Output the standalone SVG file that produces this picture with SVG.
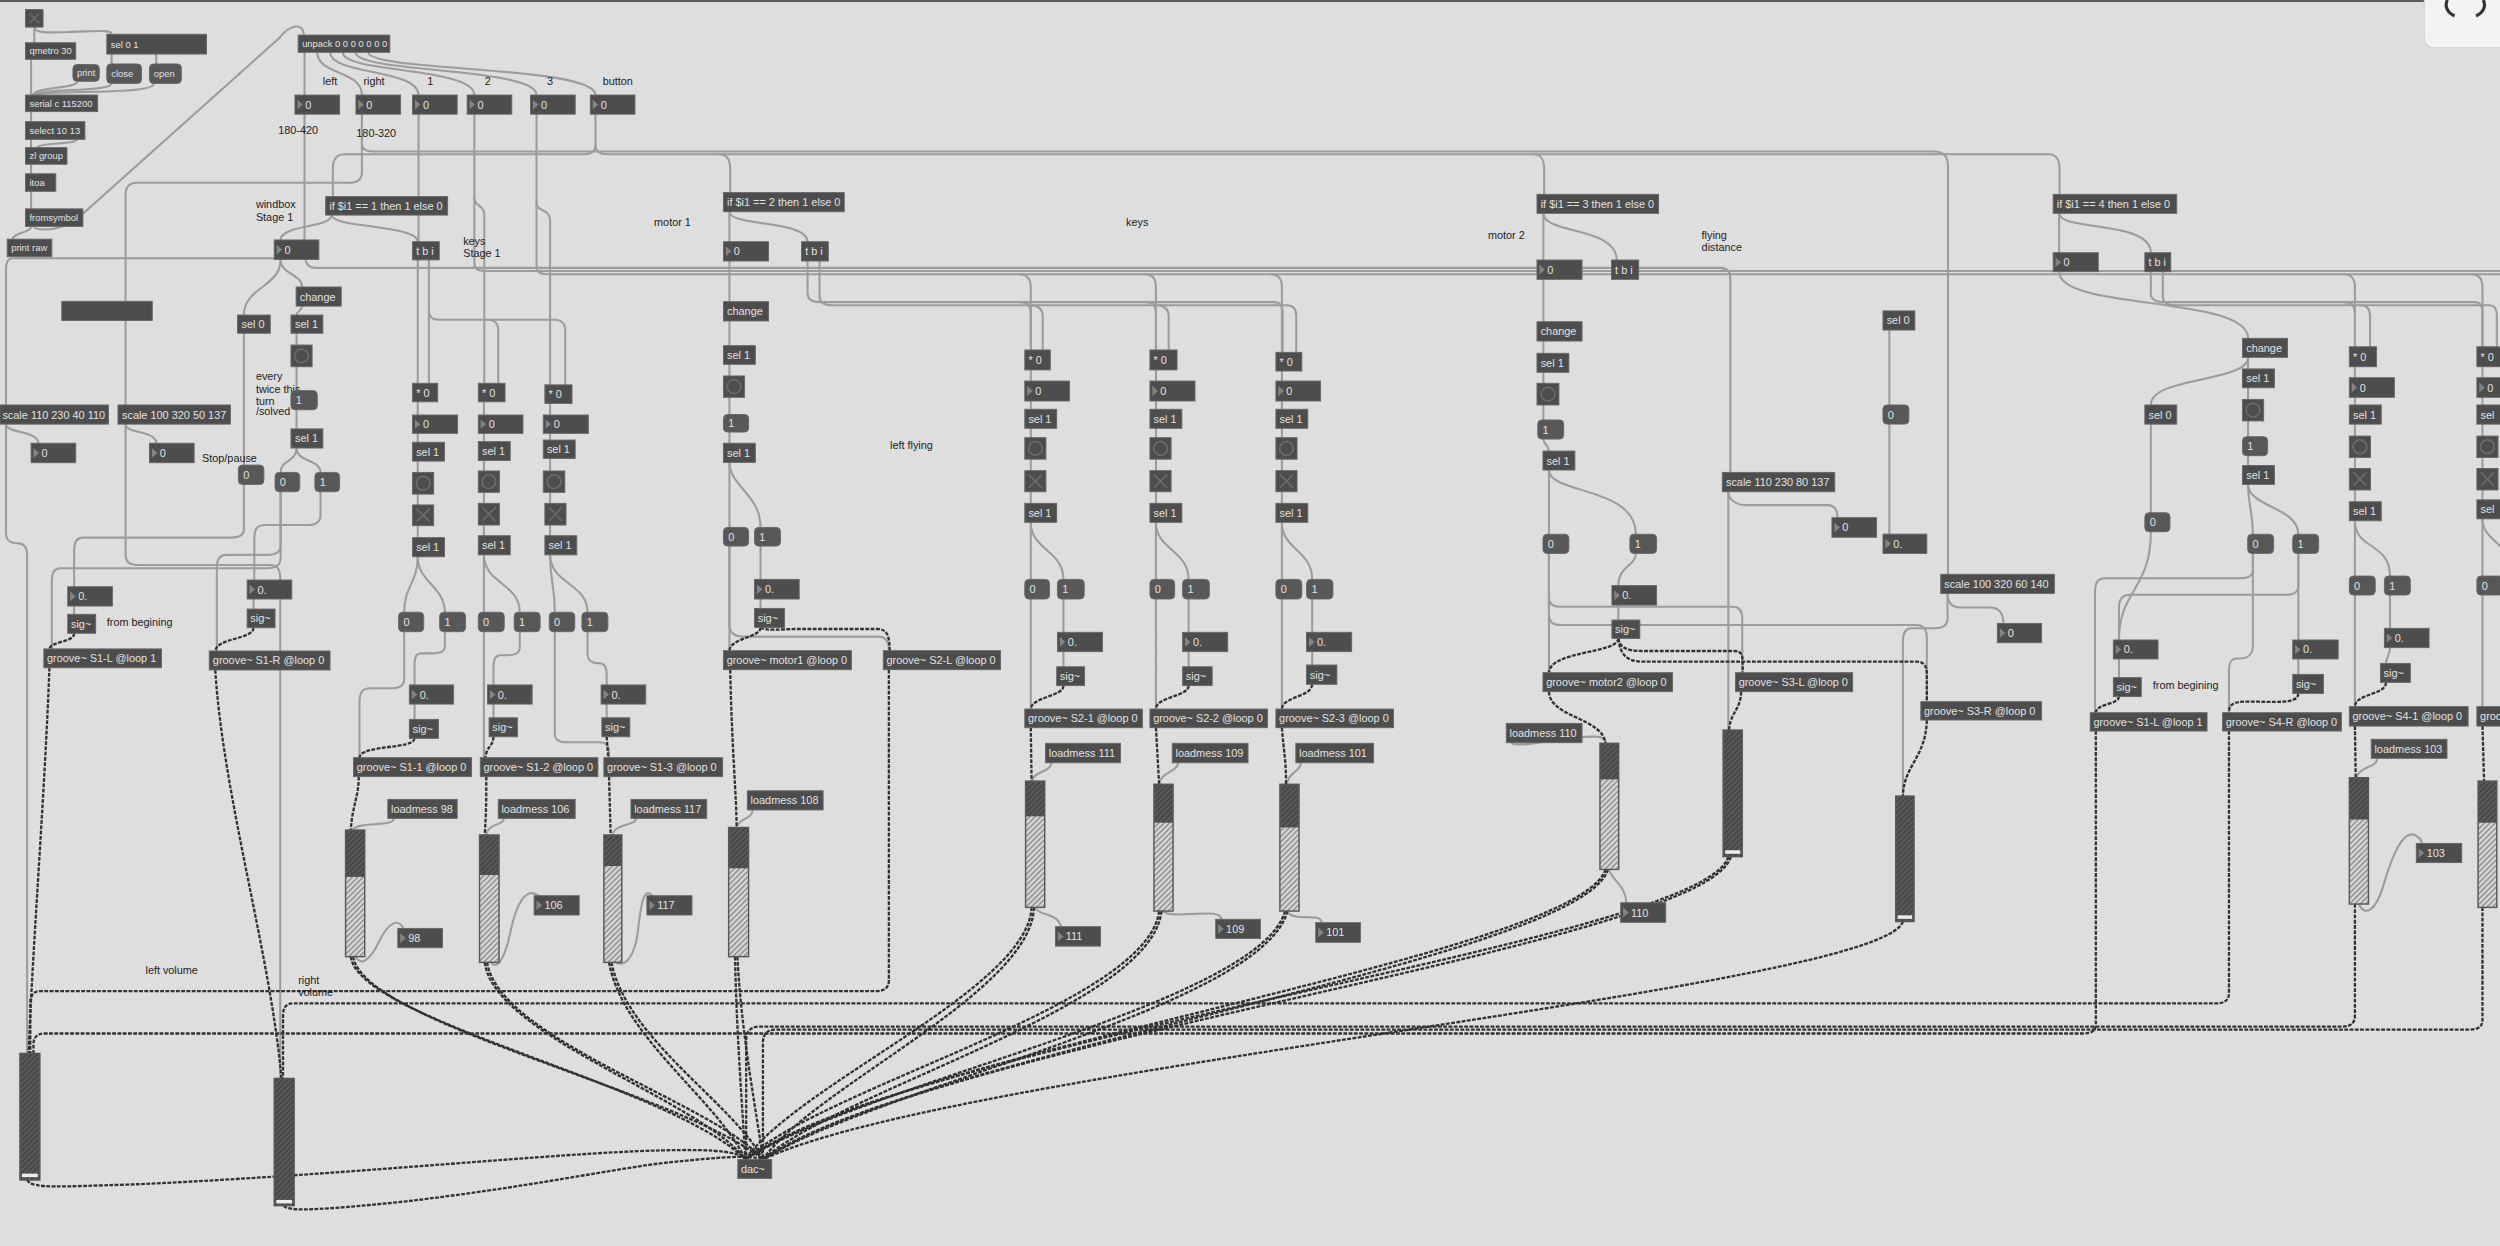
<svg xmlns="http://www.w3.org/2000/svg" width="2500" height="1246" viewBox="0 0 2500 1246">
<defs>
<style>
.o{fill:#4d4d4d;stroke:#676767;stroke-width:.6}
.m{fill:#585858;stroke:#676767;stroke-width:.6}
.t{font-family:"Liberation Sans",Arial,sans-serif;font-size:6.85px;fill:#e2e2e2}
.ts{font-family:"Liberation Sans",Arial,sans-serif;font-size:5.9px;fill:#e2e2e2}
.c{font-family:"Liberation Sans",Arial,sans-serif;font-size:6.8px;fill:#1c1c1c}
.tr{fill:#838383}
.ui{fill:none;stroke:#6c6c6c;stroke-width:1}
.w{fill:none;stroke:#9c9c9c;stroke-width:1.3;stroke-linecap:round}
.s{fill:none;stroke:#323232;stroke-width:1.45;stroke-dasharray:2.4 0.9}
.sb{fill:none;stroke:#585858;stroke-width:.9}
.kn{fill:#ececec}
</style>
<pattern id="hd" width="2.4" height="2.4" patternUnits="userSpaceOnUse" patternTransform="rotate(45)"><rect width="2.4" height="2.4" fill="#474747"/><rect width="0.9" height="2.4" fill="#5e5e5e"/></pattern>
<pattern id="hl" width="2.4" height="2.4" patternUnits="userSpaceOnUse" patternTransform="rotate(45)"><rect width="2.4" height="2.4" fill="#d8d8d8"/><rect width="0.9" height="2.4" fill="#8a8a8a"/></pattern>
</defs>
<rect width="2500" height="1246" fill="#dedede"/>
<rect width="2500" height="2" fill="#5a5a5a"/>
<g transform="scale(1.59439)">
<g id="connectors">
<g class="w">
<path d="M21.5,17V26.8"/>
<path d="M21.5,17C22,21 30,20.5 45,20C62,19.5 70,18.5 70,21.5"/>
<path d="M19.5,37.2V59.6"/>
<path d="M70,33.9V40.1"/>
<path d="M98,33.9V40.1"/>
<path d="M48.5,51C48.5,56 22,54 20.5,59.6"/>
<path d="M70,52.3C70,58 25,55 21.5,59.6"/>
<path d="M96.5,52.3C96.5,60 28,56 22.5,59.6"/>
<path d="M19.5,70V76.3"/>
<path d="M19.5,87.4V92.6"/>
<path d="M48,87.4C48,91 26,89 23,92.6"/>
<path d="M19.5,103V109"/>
<path d="M19.5,120V131"/>
<path d="M19.5,142C19.5,146 8,146 8,150"/>
<path d="M21,142C24,146 44,144 52,134L175,24C182,15 190.5,14 190.5,22"/>
<path d="M199,32.8C199,47 227,44 227,59.6"/>
<path d="M207,32.8C207,47 262.5,43 262.5,59.6"/>
<path d="M215,32.8C215,46 297.5,42 297.5,59.6"/>
<path d="M223,32.8C223,46 336.5,42 336.5,59.6"/>
<path d="M231,32.8C231,45 373.5,41 373.5,59.6"/>
<path d="M191,32.8V59.6"/>
<path d="M191,71.7V157C191,160.5 189,162 185,162H8C5,162 3.75,164.5 3.75,169V254"/>
<path d="M191,157C191,165 193,168 198,168H1079C1083.5,168 1085.25,171 1085.25,175V296.3"/>
<path d="M227,71.7V90C227,93.5 230,95 234,95H1213C1219,95 1221.75,98 1221.75,104V360.2"/>
<path d="M227,71.7V108C227,113 224,114.6 219,114.6H86C81,114.6 78.75,117 78.75,122V254"/>
<path d="M373.5,71.7V91C373.5,95 371,96.8 366,96.8H216C211,96.8 208.75,100 208.75,106V123.3"/>
<path d="M373.5,91C373.5,95 376,96.8 381,96.8H451C455.5,96.8 458,100 458,106V120.8"/>
<path d="M451,96.8H962C966,96.8 968.5,100 968.5,106V121.9"/>
<path d="M962,96.8H1285C1289.5,96.8 1291.75,100 1291.75,106V121.9"/>
<path d="M262.5,71.7V151.6"/>
<path d="M297.5,71.7V165C297.5,168.5 300,170 304,170H1575"/>
<path d="M297.5,124C297.5,130 303.75,128 303.75,135V240.4"/>
<path d="M336.5,71.7V167C336.5,170.5 339,172 343,172H1575"/>
<path d="M336.5,127C336.5,133 345,131 345,138V241.4"/>
<path d="M639,172C644,172 646.5,175 646.5,180V219.5"/>
<path d="M718,172C723,172 725,175 725,180V219.5"/>
<path d="M797,172C802,172 804,175 804,180V221"/>
<path d="M1470,172C1475,172 1477,175 1477,180V217.5"/>
<path d="M1550,172C1555,172 1557,175 1557,180V217.5"/>
<path d="M208,134.9C208,143 176,141 176,150.5"/>
<path d="M208,134.9C208,143 262,141 262,151.6"/>
<path d="M262,163V240.4"/>
<path d="M269,163V240.4"/>
<path d="M269,195C269,199 271,200.5 275,200.5H306C310,200.5 312.5,203 312.5,207V240.4"/>
<path d="M306,200.5H348C352,200.5 354.5,203 354.5,207V241.4"/>
<path d="M457.5,132.8V151.6"/>
<path d="M457.5,132.8C457.5,142 506.5,138 506.5,151.6"/>
<path d="M457.5,163.7V189.2"/>
<path d="M506.5,163.7V184C506.5,188 509,189.5 514,189.5H799C803,189.5 804.5,192 804.5,196V221"/>
<path d="M640,189.5C644.5,189.5 646.5,192 646.5,196V219.5"/>
<path d="M719,189.5C723.5,189.5 725,192 725,196V219.5"/>
<path d="M514,163.7V186C514,190 517,191.5 522,191.5H807C811,191.5 813,194 813,198V221"/>
<path d="M647,191.5C651,191.5 654,194 654,198V219.5"/>
<path d="M726,191.5C730,191.5 733,194 733,198V219.5"/>
<path d="M968,133.8V163.1"/>
<path d="M968,133.8C968,147 1014,142 1014,163.1"/>
<path d="M968,175.2V201.8"/>
<path d="M1291.5,133.8V158.5"/>
<path d="M1291.5,133.8C1291.5,145 1349,138 1349,158.5"/>
<path d="M1291.5,170.4C1291.5,195 1410,185 1410,212.2"/>
<path d="M1349,170.4V184C1349,188 1352,189.5 1357,189.5H1552C1556,189.5 1557,192 1557,196V217.5"/>
<path d="M1470,189.5C1475,189.5 1477,192 1477,196V217.5"/>
<path d="M1356.5,170.4V186C1356.5,190 1359,191.5 1364,191.5H1561C1565,191.5 1566,194 1566,198V217.5"/>
<path d="M1480,191.5C1485,191.5 1486.5,194 1486.5,198V217.5"/>
<path d="M176,162.7C176,180 153,180 153,197.6"/>
<path d="M176,162.7C176,172 189.5,172 189.5,180"/>
<path d="M189.5,192C189.5,195 186,195 186,197.6"/>
<path d="M186,209V216.4M186,230V245M186,257V269"/>
<path d="M186,281C186,290 176,288 176,296.3"/>
<path d="M186,281C186,290 201,288 201,296.3"/>
<path d="M153,209V291.7"/>
<path d="M153,303.8V332C153,336 150,337.2 145,337.2H52C48,337.2 46.5,340 46.5,345V368"/>
<path d="M201,308.4V323C201,327.5 198,329.3 193,329.3H166C161,329.3 159.5,332 159.5,338V363.8"/>
<path d="M176,308.4V350C176,354 173,356.4 168,356.4H38C34,356.4 32.5,359 32.5,364V407"/>
<path d="M176,308.4V342C176,346 173,348 168,348H142C138,348 136,351 136,356V408.3"/>
<path d="M46.5,380.1V385.3"/>
<path d="M159,375.7V382"/>
<path d="M3.75,266C3.75,272 24,270 24,278"/>
<path d="M3.75,266V334C3.75,339 6,340.7 11,340.7C15,340.7 17,343 17,348V660.7"/>
<path d="M78.75,266C78.75,272 98,270 98,278"/>
<path d="M78.75,266V348C78.75,352.5 81,354.4 86,354.4H169C174,354.4 175.75,357 175.75,362V676.4"/>
<path d="M262,252V260.3M262,271.8V277.4M262,289.2V296.3M262,309.9V316.7M262,329.7V337.2"/>
<path d="M262,349.2C262,365 253.5,368 253.5,384"/>
<path d="M262,349.2C262,365 279,368 279,384"/>
<path d="M279,396.2V405C279,409 276,409.8 271,409.8H264C261,409.8 260,412 260,416V429.6"/>
<path d="M260,441.6V451.2"/>
<path d="M253.5,396.2V426C253.5,430.5 250,431.7 245,431.7H232C227.5,431.7 225.5,434 225.5,440V475.2"/>
<path d="M247,513.3C247,519 224,515 221,520.6"/>
<path d="M223,600C226,606 232,603 238,590C244,578 250,576 253,582.3"/>
<path d="M303.5,252V260.3M303.5,271.8V277M303.5,288.8V295.4M303.5,308.8V315.7M303.5,329.3V336"/>
<path d="M303.5,348V384"/>
<path d="M303.5,348C303.5,366 326,366 326,384"/>
<path d="M326,396.2V406C326,410 323,411 318,411H314C310.5,411 309.5,414 309.5,418V429.6"/>
<path d="M309.5,441.6V450.2"/>
<path d="M303.5,396.2V475.2"/>
<path d="M316,513.3C316,518 306,516 305,523.7"/>
<path d="M308,603.6C311,608 316,604 320,585C324,566 330,556 338,561.8"/>
<path d="M345,253V260.3M345,271.8V276M345,287.5V295.4M345,308.8V315.7M345,329.3V336"/>
<path d="M345,348C345,366 348,366 348,384"/>
<path d="M345,348C345,366 368.5,366 368.5,384"/>
<path d="M368.5,396.2V410C368.5,414.5 371,416 376,416C379.5,416 380.5,419 380.5,423V429.6"/>
<path d="M380.5,441.6V450.2"/>
<path d="M348,396.2V460C348,464.5 351,465.5 356,465.5H376C380,465.5 382,468 382,472V475.2"/>
<path d="M399,513.3C399,518 386,516 384,523.7"/>
<path d="M386,603.6C392,607 398,600 400,585C402,566 404,556 409,561.8"/>
<path d="M457.5,201.3V216.8M457.5,228.5V235.8M457.5,249.2V260M457.5,271V278"/>
<path d="M457.5,290V330.8"/>
<path d="M457.5,290C457.5,305 477,310 477,330.8"/>
<path d="M477,342.5V363.4M477,375.7V381.6"/>
<path d="M457.5,342.5V408.1"/>
<path d="M457.5,342.5V392C457.5,397 461,399.3 467,399.3H551C555.5,399.3 557.5,402 557.5,408.1"/>
<path d="M472,508C472,514 463,513 462,519"/>
<path d="M646.5,232V239M646.5,251.5V256.7M646.5,268.6V274.5M646.5,288V295.2M646.5,308.4V315.7M646.5,327.6V363.4M667,375.7V396.6M667,408.7V418.2M646.5,375.7V444.7"/>
<path d="M646.5,327.6C646.5,345 667,345 667,363.4"/>
<path d="M659.5,478.4C659.5,484 648,484 647,489.9"/>
<path d="M649,569.1C652,575 663,572 665.5,581.2"/>
<path d="M725,232V239M725,251.5V256.7M725,268.6V274.5M725,288V295.2M725,308.4V315.7M725,327.6V363.4M745.5,375.7V396.6M745.5,408.7V418.2M725,375.7V444.7"/>
<path d="M725,327.6C725,345 745.5,345 745.5,363.4"/>
<path d="M739,478.4C739,484 728,484 727,491.9"/>
<path d="M729,571.4C733,575 745,573 758,573C763,573 766,574 766,576.6"/>
<path d="M804,232.7V239M804,251.5V256.7M804,268.6V274.5M804,288V295.2M804,308.4V315.7M804,327.6V363.4M823,375.7V396.6M823,408.7V417.1M804,375.7V444.7"/>
<path d="M804,327.6C804,345 823,345 823,363.4"/>
<path d="M816,478.4C816,484 808,484 807,491.9"/>
<path d="M807,571.4C809,576 818,575 825,575.5C828,576 829,577 829,578.7"/>
<path d="M968,213.9V221.6M968,233.5V240.4M968,254V263.4"/>
<path d="M968,275.4C968,279 971.5,279 971.5,282.9"/>
<path d="M971.5,294.8V335.1"/>
<path d="M971.5,294.8C971.5,310 1026,305 1026,335.1"/>
<path d="M1026,347.1C1026,355 1015,355 1015,367.3"/>
<path d="M1015,379.5V388.9"/>
<path d="M971.5,347.1V421.9"/>
<path d="M971.5,347.1V375C971.5,379 974,380.5 979,380.5H1087C1091,380.5 1092.75,383 1092.75,388V421.9"/>
<path d="M971.5,347.1V386C971.5,390 974,392 979,392H1202C1206.5,392 1208.5,395 1208.5,400V440.1"/>
<path d="M948,465.8C950,470 980,462 1000,462C1005,462 1007,464 1007,466.2"/>
<path d="M1009,545.3C1011,552 1020,556 1020,566.2"/>
<path d="M1084,308.4V457.9"/>
<path d="M1084,308.4C1084,314 1090,316.8 1095,316.8H1146C1150,316.8 1152.5,319 1152.5,324.7"/>
<path d="M1185,207V254M1185,266V335"/>
<path d="M1221.5,372.2C1221.5,378 1224,381 1230,381H1248C1253,381 1256.5,384 1256.5,391"/>
<path d="M1221.5,372.2V388C1221.5,392 1219,394 1214,394H1199C1195,394 1193.5,397 1193.5,402V499.3"/>
<path d="M1410,224.1V231.4"/>
<path d="M1410,224.1C1410,240 1349,236 1349,254"/>
<path d="M1410,243.2V250.5M1410,264V273.9M1410,285.8V292"/>
<path d="M1410,303.8C1410,318 1413,320 1413,335.1"/>
<path d="M1410,303.8C1410,318 1441.5,318 1441.5,335.1"/>
<path d="M1349,266V321.6"/>
<path d="M1349,333.5C1349,370 1329,370 1329,401.4"/>
<path d="M1441.5,347.1V367C1441.5,371.5 1439,373 1434,373H1336C1331,373 1329,376 1329,381V401.4"/>
<path d="M1441.5,347.1V401.4"/>
<path d="M1413,347.1V357C1413,361.5 1410,362.7 1405,362.7H1320C1315.5,362.7 1314,366 1314,371V447"/>
<path d="M1413,347.1V405C1413,410 1410,413 1405,413H1403C1399,413 1398,416 1398,421V447"/>
<path d="M1329,413.3V425M1441.5,413.3V423"/>
<path d="M1477,230V236.9M1477,249.2V254M1477,266V273.5M1477,286.9V293.8M1477,307.3V314.7M1477,326.6V361.3M1499,373.2V394.1M1477,373.2V443.2"/>
<path d="M1477,326.6C1477,345 1499,340 1499,361.3"/>
<path d="M1499,406.2C1499,411 1496.5,412 1496.5,416.1"/>
<path d="M1491,475.6C1491,482 1480,480 1478,487.8"/>
<path d="M1479.5,567C1483,575 1490,572 1495,555C1501,534 1508,520 1515,524C1518,526 1519,527 1519,529"/>
<path d="M1557,230V236.9M1557,249.2V254M1557,266V273.5M1557,286.9V293.8M1557,307.3V313.5M1557,325.4V361.3M1557,373.2V443.2"/>
<path d="M1557,325.4C1557,340 1575,340 1578,361"/>
</g>
<g class="s">
<path d="M46.5,397.2C46.5,403 32,402 31,407"/>
<path d="M159,393.7C159,401 136,400 135,408.3"/>
<path d="M31,418.8C28,500 20,600 18,660.7"/>
<path d="M135,420.2C140,500 170,600 176.5,676.4"/>
<path d="M260,463.1C260,470 226,467 225.5,475.2"/>
<path d="M225,487.1C225,500 221,505 220,520.6"/>
<path d="M309.5,462C309.5,468 305,468 304.5,475.2"/>
<path d="M305,487.1C305,500 305,510 304,523.7"/>
<path d="M380.5,462L381.5,475.2"/>
<path d="M382,487.1L383,523.7"/>
<path d="M477,393.5C477,400 458,400 457.5,408.1"/>
<path d="M477,393.5C480,396 490,394.5 500,394.5H550C556,394.5 558,398 558,408.1"/>
<path d="M458,420C459,470 462,500 462,519"/>
<path d="M667,430C667,437 647,437 646.5,444.7"/>
<path d="M646.5,456.4L647,489.9"/>
<path d="M745.5,430C745.5,437 725,437 725,444.7"/>
<path d="M725,456.4L727,491.9"/>
<path d="M823,429.2C823,437 804,437 804,444.7"/>
<path d="M804,456.4C805,470 807,480 806.5,491.9"/>
<path d="M1015,400.4C1015,410 972,408 971.5,421.9"/>
<path d="M1015,400.4C1016,406 1020,408.3 1030,408.3H1088C1092,408.3 1093,411 1093,415V421.9"/>
<path d="M1015,400.4C1016,410 1020,415 1030,415H1202C1207,415 1208.5,418 1208.5,423V440.1"/>
<path d="M971.5,433.8C972,450 1005,450 1007,466.2"/>
<path d="M1092,433.8C1092,445 1085,447 1084.5,457.9"/>
<path d="M1208.5,451.6C1208,475 1194,480 1193.5,499.3"/>
<path d="M1329,436.9C1329,442 1315,441 1314.5,447"/>
<path d="M1441.5,434.9C1441.5,442 1425,440 1410,440C1400,440 1398,442 1398,447"/>
<path d="M1496.5,428C1496.5,436 1477,435 1477,443.2"/>
<path d="M1477,455.4L1477.5,487.8"/>
<path d="M1557,455.4L1558,489.9"/>
<path d="M557.5,420V615C557.5,620 554,621.6 549,621.6H26C21,621.6 19,624 19,629V660.7"/>
<path d="M1398,458.5V623C1398,627.5 1395,629.3 1390,629.3H184C179.5,629.3 177.5,632 177.5,637V676.4"/>
<path d="M1314.5,458.5V642C1314.5,646.5 1312,648.2 1307,648.2H28C23,648.2 21,651 21,655V660.7"/>
<path d="M1477,567V637C1477,642 1474,643.9 1469,643.9H476C471,643.9 468,647 468,652V727.2"/>
<path d="M1557,569V640C1557,644 1554,645.8 1549,645.8H486C481,645.8 478.5,649 478.5,654V727.2"/>
<path d="M17,740.1C20,746 40,744 80,743C200,738 330,725 400,722C440,720.5 463,721 467.5,727.2"/>
<path d="M178,756.2C180,760 200,759 250,754C330,745 390,732 420,729C450,726 470,724 478.5,727.2"/>
<path d="M220,600C225,640 420,680 467.5,727.2"/>
<path d="M221.5,600C228,642 425,684 478.5,727.2"/>
<path d="M304,603.6C310,650 440,690 467.5,727.2"/>
<path d="M305.5,603.6C313,652 448,692 478.5,727.2"/>
<path d="M382,603.6C390,650 450,690 467.5,727.2"/>
<path d="M383.5,603.6C393,652 460,692 478.5,727.2"/>
<path d="M461,600C462,650 466,700 467.5,727.2"/>
<path d="M462.5,600C465,650 475,700 478.5,727.2"/>
<path d="M647,569.1C645,620 500,680 467.5,727.2"/>
<path d="M648.5,569.1C647,622 510,682 478.5,727.2"/>
<path d="M727,571.4C720,630 520,680 467.5,727.2"/>
<path d="M728.5,571.4C722,632 530,682 478.5,727.2"/>
<path d="M806,571.4C790,630 540,680 467.5,727.2"/>
<path d="M807.5,571.4C792,632 550,682 478.5,727.2"/>
<path d="M1007,545.3C990,600 560,660 467.5,727.2"/>
<path d="M1008.5,545.3C992,602 570,662 478.5,727.2"/>
<path d="M1084,537.3C1070,590 580,650 467.5,727.2"/>
<path d="M1085.5,537.3C1072,592 590,652 478.5,727.2"/>
<path d="M1193.5,578C1180,620 600,670 478.5,727.2"/>
</g>
</g>

<g id="comments">
<text class="c" x="202.5" y="53">left</text>
<text class="c" x="228" y="53">right</text>
<text class="c" x="268" y="53">1</text>
<text class="c" x="304" y="53">2</text>
<text class="c" x="343" y="53">3</text>
<text class="c" x="378" y="53">button</text>
<text class="c" x="174.5" y="83.9">180-420</text>
<text class="c" x="223.5" y="86">180-320</text>
<text class="c" x="160.5" y="130.4">windbox</text>
<text class="c" x="160.5" y="138.4">Stage 1</text>
<text class="c" x="290.5" y="153.4">keys</text>
<text class="c" x="290.5" y="161.4">Stage 1</text>
<text class="c" x="160.5" y="238.6">every</text>
<text class="c" x="160.5" y="246.6">twice this</text>
<text class="c" x="160.5" y="253.9">turn</text>
<text class="c" x="160.5" y="260.6">/solved</text>
<text class="c" x="126.75" y="289.9">Stop/pause</text>
<text class="c" x="67" y="392.4">from begining</text>
<text class="c" x="410.25" y="141.8">motor 1</text>
<text class="c" x="706.25" y="141.8">keys</text>
<text class="c" x="558.25" y="281.9">left flying</text>
<text class="c" x="933.25" y="149.8">motor 2</text>
<text class="c" x="1067.25" y="149.8">flying</text>
<text class="c" x="1067.25" y="157.7">distance</text>
<text class="c" x="1350.25" y="432.4">from begining</text>
<text class="c" x="91.25" y="611.2">left volume</text>
<text class="c" x="187" y="617.1">right</text>
<text class="c" x="187" y="624.8">volume</text>
</g>

<g id="toggle-main"><rect class="o" x="16" y="6" width="11" height="11"/><path class="ui" d="M18.5,8.5L24.5,14.5M24.5,8.5L18.5,14.5"/></g>
<g id="qmetro"><rect class="o" x="16" y="26.8" width="31.5" height="10.4"/><text class="ts" x="18.5" y="34.1">qmetro 30</text></g>
<g id="sel01"><rect class="o" x="67" y="21.5" width="62.5" height="12.4"/><text class="ts" x="69.5" y="29.8">sel 0 1</text></g>
<g id="msg-print"><rect class="m" x="45.75" y="40.5" width="16.5" height="10.5" rx="2.5"/><text class="ts" x="48.3" y="47.9">print</text></g>
<g id="msg-close"><rect class="m" x="67" y="40.1" width="21.75" height="12.2" rx="2.5"/><text class="ts" x="69.8" y="48.3">close</text></g>
<g id="msg-open"><rect class="m" x="93.75" y="40.1" width="20" height="12.2" rx="2.5"/><text class="ts" x="96.5" y="48.3">open</text></g>
<g id="serial"><rect class="o" x="16" y="59.6" width="45.25" height="10.4"/><text class="ts" x="18.5" y="66.9">serial c 115200</text></g>
<g id="select"><rect class="o" x="16" y="76.3" width="37.25" height="11.1"/><text class="ts" x="18.5" y="84">select 10 13</text></g>
<g id="zlgroup"><rect class="o" x="16" y="92.6" width="26" height="10.4"/><text class="ts" x="18.5" y="99.9">zl group</text></g>
<g id="itoa"><rect class="o" x="16" y="109" width="19" height="11"/><text class="ts" x="18.5" y="116.6">itoa</text></g>
<g id="fromsymbol"><rect class="o" x="16" y="131" width="36" height="11"/><text class="ts" x="18.5" y="138.6">fromsymbol</text></g>
<g id="printraw"><rect class="o" x="4.5" y="150" width="28" height="11"/><text class="ts" x="7" y="157.6">print raw</text></g>
<g id="unpack"><rect class="o" x="187" y="22" width="57.5" height="10.8"/><text class="ts" x="189.5" y="29.5">unpack 0 0 0 0 0 0 0</text></g>
<g id="num-left"><rect class="o" x="185" y="59.6" width="28" height="12"/><path class="tr" d="M186.5,62.6L190,65.6L186.5,68.6Z"/><text class="t" x="191.5" y="68.1">0</text></g>
<g id="num-right"><rect class="o" x="223.25" y="59.6" width="28" height="12"/><path class="tr" d="M224.75,62.6L228.25,65.6L224.75,68.6Z"/><text class="t" x="229.75" y="68.1">0</text></g>
<g id="num-1"><rect class="o" x="258.75" y="59.6" width="28" height="12"/><path class="tr" d="M260.25,62.6L263.75,65.6L260.25,68.6Z"/><text class="t" x="265.25" y="68.1">0</text></g>
<g id="num-2"><rect class="o" x="293" y="59.6" width="28" height="12"/><path class="tr" d="M294.5,62.6L298,65.6L294.5,68.6Z"/><text class="t" x="299.5" y="68.1">0</text></g>
<g id="num-3"><rect class="o" x="332.75" y="59.6" width="28" height="12"/><path class="tr" d="M334.25,62.6L337.75,65.6L334.25,68.6Z"/><text class="t" x="339.25" y="68.1">0</text></g>
<g id="num-button"><rect class="o" x="370.25" y="59.6" width="28" height="12"/><path class="tr" d="M371.75,62.6L375.25,65.6L371.75,68.6Z"/><text class="t" x="376.75" y="68.1">0</text></g>

<g id="if1"><rect class="o" x="204.25" y="123.3" width="76.5" height="11.6"/><text class="t" x="206.5" y="131.6">if $i1 == 1 then 1 else 0</text></g>
<g id="num-w1"><rect class="o" x="172" y="150.5" width="28" height="12.2"/><path class="tr" d="M173.5,153.5L177,156.6L173.5,159.7Z"/><text class="t" x="178.5" y="159.1">0</text></g>
<g id="tbi1"><rect class="o" x="258.75" y="151.6" width="16.75" height="11.4"/><text class="t" x="261" y="159.8">t b i</text></g>
<g id="empty-obj"><rect class="o" x="38.75" y="189" width="56.75" height="12"/></g>
<g id="change1"><rect class="o" x="185.75" y="180" width="28.25" height="12"/><text class="t" x="188" y="188.5">change</text></g>
<g id="sel0-w1"><rect class="o" x="149" y="197.6" width="20.5" height="11.4"/><text class="t" x="151.5" y="205.8">sel 0</text></g>
<g id="sel1-w1a"><rect class="o" x="182.5" y="197.6" width="20" height="11.4"/><text class="t" x="185" y="205.8">sel 1</text></g>
<g id="btn-w1"><rect class="o" x="182.5" y="216.4" width="13.25" height="13.6"/><circle class="ui" cx="189.1" cy="223.2" r="4.3"/></g>
<g id="msg1-w1"><rect class="m" x="182.5" y="245" width="16.5" height="12" rx="2.5"/><text class="t" x="185.5" y="253.5">1</text></g>
<g id="sel1-w1b"><rect class="o" x="182.5" y="269" width="20" height="12"/><text class="t" x="185" y="277.5">sel 1</text></g>
<g id="msg0-stop"><rect class="m" x="149.5" y="291.7" width="16" height="12.1" rx="2.5"/><text class="t" x="152.5" y="300.3">0</text></g>
<g id="msg0-w1"><rect class="m" x="172.5" y="296.3" width="15.5" height="12.1" rx="2.5"/><text class="t" x="175.5" y="304.9">0</text></g>
<g id="msg1-w1b"><rect class="m" x="197.5" y="296.3" width="15.5" height="12.1" rx="2.5"/><text class="t" x="200.5" y="304.9">1</text></g>
<g id="scale1"><rect class="o" x="0" y="254" width="68" height="12"/><text class="t" x="1.5" y="262.5">scale 110 230 40 110</text></g>
<g id="scale2"><rect class="o" x="74" y="254" width="70.5" height="12"/><text class="t" x="76.5" y="262.5">scale 100 320 50 137</text></g>
<g id="num-sc1"><rect class="o" x="19.5" y="278" width="28" height="12.2"/><path class="tr" d="M21,281L24.5,284.1L21,287.2Z"/><text class="t" x="26" y="286.6">0</text></g>
<g id="num-sc2"><rect class="o" x="93.75" y="278" width="28" height="12.2"/><path class="tr" d="M95.25,281L98.75,284.1L95.25,287.2Z"/><text class="t" x="100.25" y="286.6">0</text></g>
<g id="num-s1l"><rect class="o" x="42.5" y="368" width="28" height="12.1"/><path class="tr" d="M44,371L47.5,374.05L44,377.1Z"/><text class="t" x="49" y="376.55">0.</text></g>
<g id="sig-s1l"><rect class="o" x="42.5" y="385.3" width="17.5" height="11.9"/><text class="t" x="44.5" y="393.75">sig~</text></g>
<g id="groove-s1l"><rect class="o" x="27.5" y="407" width="73.75" height="11.8"/><text class="t" x="29.5" y="415.4">groove~ S1-L @loop 1</text></g>
<g id="num-s1r"><rect class="o" x="155" y="363.8" width="28" height="11.9"/><path class="tr" d="M156.5,366.8L160,369.75L156.5,372.7Z"/><text class="t" x="161.5" y="372.25">0.</text></g>
<g id="sig-s1r"><rect class="o" x="155" y="382" width="17.5" height="11.7"/><text class="t" x="157" y="390.35">sig~</text></g>
<g id="groove-s1r"><rect class="o" x="131.25" y="408.3" width="75.75" height="11.9"/><text class="t" x="133.5" y="416.75">groove~ S1-R @loop 0</text></g>

<g id="mul-s11"><rect class="o" x="258.75" y="240.4" width="15.75" height="11.6"/><text class="t" x="261" y="248.7">* 0</text></g>
<g id="num-s11"><rect class="o" x="258.75" y="260.3" width="28.25" height="11.5"/><path class="tr" d="M260.25,263.3L263.75,266.05L260.25,268.8Z"/><text class="t" x="265.25" y="268.55">0</text></g>
<g id="sel1a-s11"><rect class="o" x="258.75" y="277.4" width="20" height="11.8"/><text class="t" x="261" y="285.8">sel 1</text></g>
<g id="btn-s11"><rect class="o" x="258.75" y="296.3" width="13.25" height="13.6"/><circle class="ui" cx="265.4" cy="303.1" r="4.3"/></g>
<g id="tog-s11"><rect class="o" x="258.75" y="316.7" width="13.25" height="13"/><path class="ui" d="M261.25,319.2L269.5,327.2M269.5,319.2L261.25,327.2"/></g>
<g id="sel1b-s11"><rect class="o" x="258.75" y="337.2" width="20" height="12"/><text class="t" x="261" y="345.7">sel 1</text></g>
<g id="msg0-s11"><rect class="m" x="250" y="384" width="15.75" height="12.2" rx="2.5"/><text class="t" x="253" y="392.6">0</text></g>
<g id="msg1-s11"><rect class="m" x="275.75" y="384" width="16.25" height="12.2" rx="2.5"/><text class="t" x="278.75" y="392.6">1</text></g>
<g id="numf-s11"><rect class="o" x="256.75" y="429.6" width="27.75" height="12"/><path class="tr" d="M258.25,432.6L261.75,435.6L258.25,438.6Z"/><text class="t" x="263.25" y="438.1">0.</text></g>
<g id="sig-s11"><rect class="o" x="256.75" y="451.2" width="18.25" height="11.9"/><text class="t" x="258.75" y="459.65">sig~</text></g>
<g id="groove-s11"><rect class="o" x="221.75" y="475.2" width="74" height="11.9"/><text class="t" x="223.75" y="483.65">groove~ S1-1 @loop 0</text></g>
<g id="lm-98"><rect class="o" x="243.25" y="501.4" width="43.5" height="11.9"/><text class="t" x="245.25" y="509.85">loadmess 98</text></g>
<g id="sl-s11"><rect x="216.75" y="520.6" width="12" height="79.4" fill="url(#hd)"/><rect x="216.75" y="550" width="12" height="50" fill="url(#hl)"/><rect class="sb" x="216.75" y="520.6" width="12" height="79.4"/></g>
<g id="nv-98"><rect class="o" x="249.5" y="582.3" width="28" height="12.1"/><path class="tr" d="M251,585.3L254.5,588.35L251,591.4Z"/><text class="t" x="256" y="590.85">98</text></g>

<g id="mul-s12"><rect class="o" x="300" y="240.4" width="16.75" height="11.6"/><text class="t" x="302.3" y="248.7">* 0</text></g>
<g id="num-s12"><rect class="o" x="300" y="260.3" width="28" height="11.5"/><path class="tr" d="M301.5,263.3L305,266.05L301.5,268.8Z"/><text class="t" x="306.5" y="268.55">0</text></g>
<g id="sel1a-s12"><rect class="o" x="300" y="277" width="20" height="11.8"/><text class="t" x="302.3" y="285.4">sel 1</text></g>
<g id="btn-s12"><rect class="o" x="300" y="295.4" width="13.25" height="13.4"/><circle class="ui" cx="306.6" cy="302.1" r="4.3"/></g>
<g id="tog-s12"><rect class="o" x="300" y="315.7" width="13.25" height="13.6"/><path class="ui" d="M302.5,318.2L310.75,326.8M310.75,318.2L302.5,326.8"/></g>
<g id="sel1b-s12"><rect class="o" x="300" y="336" width="20" height="12"/><text class="t" x="302.3" y="344.5">sel 1</text></g>
<g id="msg0-s12"><rect class="m" x="300" y="384" width="16.25" height="12.2" rx="2.5"/><text class="t" x="303" y="392.6">0</text></g>
<g id="msg1-s12"><rect class="m" x="322.5" y="384" width="16.25" height="12.2" rx="2.5"/><text class="t" x="325.5" y="392.6">1</text></g>
<g id="numf-s12"><rect class="o" x="305.75" y="429.6" width="28" height="12"/><path class="tr" d="M307.25,432.6L310.75,435.6L307.25,438.6Z"/><text class="t" x="312.25" y="438.1">0.</text></g>
<g id="sig-s12"><rect class="o" x="306.75" y="450.2" width="17.75" height="11.9"/><text class="t" x="308.75" y="458.65">sig~</text></g>
<g id="groove-s12"><rect class="o" x="301.25" y="475.2" width="73.75" height="11.9"/><text class="t" x="303.25" y="483.65">groove~ S1-2 @loop 0</text></g>
<g id="lm-106"><rect class="o" x="312.5" y="501.4" width="48.25" height="11.9"/><text class="t" x="314.5" y="509.85">loadmess 106</text></g>
<g id="sl-s12"><rect x="300.75" y="523.7" width="12.25" height="79.9" fill="url(#hd)"/><rect x="300.75" y="548.8" width="12.25" height="54.8" fill="url(#hl)"/><rect class="sb" x="300.75" y="523.7" width="12.25" height="79.9"/></g>
<g id="nv-106"><rect class="o" x="335" y="561.8" width="28.25" height="12.1"/><path class="tr" d="M336.5,564.8L340,567.85L336.5,570.9Z"/><text class="t" x="341.5" y="570.35">106</text></g>

<g id="mul-s13"><rect class="o" x="341.75" y="241.4" width="17" height="11.6"/><text class="t" x="344" y="249.7">* 0</text></g>
<g id="num-s13"><rect class="o" x="340.75" y="260.3" width="28.25" height="11.5"/><path class="tr" d="M342.25,263.3L345.75,266.05L342.25,268.8Z"/><text class="t" x="347.25" y="268.55">0</text></g>
<g id="sel1a-s13"><rect class="o" x="340.75" y="276" width="20" height="11.5"/><text class="t" x="343" y="284.25">sel 1</text></g>
<g id="btn-s13"><rect class="o" x="340.75" y="295.4" width="13.5" height="13.4"/><circle class="ui" cx="347.5" cy="302.1" r="4.3"/></g>
<g id="tog-s13"><rect class="o" x="341.75" y="315.7" width="13.25" height="13.6"/><path class="ui" d="M344.25,318.2L352.5,326.8M352.5,318.2L344.25,326.8"/></g>
<g id="sel1b-s13"><rect class="o" x="341.75" y="336" width="20" height="12"/><text class="t" x="344" y="344.5">sel 1</text></g>
<g id="msg0-s13"><rect class="m" x="344.5" y="384" width="16" height="12.2" rx="2.5"/><text class="t" x="347.5" y="392.6">0</text></g>
<g id="msg1-s13"><rect class="m" x="365" y="384" width="16.25" height="12.2" rx="2.5"/><text class="t" x="368" y="392.6">1</text></g>
<g id="numf-s13"><rect class="o" x="377" y="429.6" width="28" height="12"/><path class="tr" d="M378.5,432.6L382,435.6L378.5,438.6Z"/><text class="t" x="383.5" y="438.1">0.</text></g>
<g id="sig-s13"><rect class="o" x="377.5" y="450.2" width="17.5" height="11.9"/><text class="t" x="379.5" y="458.65">sig~</text></g>
<g id="groove-s13"><rect class="o" x="378.75" y="475.2" width="74.5" height="11.9"/><text class="t" x="380.75" y="483.65">groove~ S1-3 @loop 0</text></g>
<g id="lm-117"><rect class="o" x="395.75" y="501.4" width="47.5" height="11.9"/><text class="t" x="397.75" y="509.85">loadmess 117</text></g>
<g id="sl-s13"><rect x="378.75" y="523.7" width="11.25" height="79.9" fill="url(#hd)"/><rect x="378.75" y="543.2" width="11.25" height="60.4" fill="url(#hl)"/><rect class="sb" x="378.75" y="523.7" width="11.25" height="79.9"/></g>
<g id="nv-117"><rect class="o" x="405.75" y="561.8" width="28.25" height="12.1"/><path class="tr" d="M407.25,564.8L410.75,567.85L407.25,570.9Z"/><text class="t" x="412.25" y="570.35">117</text></g>

<g id="if2"><rect class="o" x="453.75" y="120.8" width="75.75" height="12"/><text class="t" x="456" y="129.3">if $i1 == 2 then 1 else 0</text></g>
<g id="num-m1"><rect class="o" x="453.75" y="151.6" width="28.25" height="12.1"/><path class="tr" d="M455.25,154.6L458.75,157.65L455.25,160.7Z"/><text class="t" x="460.25" y="160.15">0</text></g>
<g id="tbi2"><rect class="o" x="502.75" y="151.6" width="16.75" height="12.1"/><text class="t" x="505" y="160.15">t b i</text></g>
<g id="change2"><rect class="o" x="453.75" y="189.2" width="28.25" height="12.1"/><text class="t" x="456" y="197.75">change</text></g>
<g id="sel1a-m1"><rect class="o" x="453.75" y="216.8" width="20" height="11.7"/><text class="t" x="456" y="225.15">sel 1</text></g>
<g id="btn-m1"><rect class="o" x="453.75" y="235.8" width="13.25" height="13.4"/><circle class="ui" cx="460.4" cy="242.5" r="4.3"/></g>
<g id="msg1a-m1"><rect class="m" x="453.75" y="260" width="15.75" height="11" rx="2.5"/><text class="t" x="456.75" y="268">1</text></g>
<g id="sel1b-m1"><rect class="o" x="453.75" y="278" width="20" height="12"/><text class="t" x="456" y="286.5">sel 1</text></g>
<g id="msg0-m1"><rect class="m" x="453.75" y="330.8" width="15.75" height="11.7" rx="2.5"/><text class="t" x="456.75" y="339.15">0</text></g>
<g id="msg1-m1"><rect class="m" x="473.25" y="330.8" width="16.25" height="11.7" rx="2.5"/><text class="t" x="476.25" y="339.15">1</text></g>
<g id="numf-m1"><rect class="o" x="473.25" y="363.4" width="28" height="12.3"/><path class="tr" d="M474.75,366.4L478.25,369.55L474.75,372.7Z"/><text class="t" x="479.75" y="372.05">0.</text></g>
<g id="sig-m1"><rect class="o" x="473.25" y="381.6" width="18.75" height="11.9"/><text class="t" x="475.25" y="390.05">sig~</text></g>
<g id="groove-m1"><rect class="o" x="453.75" y="408.1" width="80.25" height="11.9"/><text class="t" x="455.75" y="416.55">groove~ motor1 @loop 0</text></g>
<g id="groove-s2l"><rect class="o" x="554" y="408.1" width="73.5" height="11.9"/><text class="t" x="556" y="416.55">groove~ S2-L @loop 0</text></g>
<g id="lm-108"><rect class="o" x="468.75" y="496" width="47.5" height="12"/><text class="t" x="470.75" y="504.5">loadmess 108</text></g>
<g id="sl-m1"><rect x="457" y="519" width="12.5" height="81" fill="url(#hd)"/><rect x="457" y="544.6" width="12.5" height="55.4" fill="url(#hl)"/><rect class="sb" x="457" y="519" width="12.5" height="81"/></g>

<g id="mul-s21"><rect class="o" x="642.75" y="219.5" width="16" height="12.5"/><text class="t" x="645" y="228.25">* 0</text></g>
<g id="num-s21"><rect class="o" x="642.75" y="239" width="28" height="12.5"/><path class="tr" d="M644.25,242L647.75,245.25L644.25,248.5Z"/><text class="t" x="649.25" y="247.75">0</text></g>
<g id="sel1a-s21"><rect class="o" x="642.75" y="256.7" width="20" height="11.9"/><text class="t" x="645" y="265.15">sel 1</text></g>
<g id="btn-s21"><rect class="o" x="642.75" y="274.5" width="13.25" height="13.5"/><circle class="ui" cx="649.4" cy="281.25" r="4.3"/></g>
<g id="tog-s21"><rect class="o" x="642.75" y="295.2" width="13.25" height="13.2"/><path class="ui" d="M645.25,297.7L653.5,305.9M653.5,297.7L645.25,305.9"/></g>
<g id="sel1b-s21"><rect class="o" x="642.75" y="315.7" width="20" height="11.9"/><text class="t" x="645" y="324.15">sel 1</text></g>
<g id="msg0-s21"><rect class="m" x="642.75" y="363.4" width="15.5" height="12.3" rx="2.5"/><text class="t" x="645.75" y="372.05">0</text></g>
<g id="msg1-s21"><rect class="m" x="663.25" y="363.4" width="16.75" height="12.3" rx="2.5"/><text class="t" x="666.25" y="372.05">1</text></g>
<g id="numf-s21"><rect class="o" x="663.25" y="396.6" width="28.25" height="12.1"/><path class="tr" d="M664.75,399.6L668.25,402.65L664.75,405.7Z"/><text class="t" x="669.75" y="405.15">0.</text></g>
<g id="sig-s21"><rect class="o" x="662.75" y="418.2" width="17.5" height="11.8"/><text class="t" x="664.75" y="426.6">sig~</text></g>
<g id="groove-s21"><rect class="o" x="642.75" y="444.7" width="73.75" height="11.7"/><text class="t" x="644.75" y="453.05">groove~ S2-1 @loop 0</text></g>
<g id="lm-111"><rect class="o" x="655.75" y="466.2" width="47" height="12.2"/><text class="t" x="657.75" y="474.8">loadmess 111</text></g>
<g id="sl-s21"><rect x="643.25" y="489.9" width="12" height="79.2" fill="url(#hd)"/><rect x="643.25" y="512" width="12" height="57.1" fill="url(#hl)"/><rect class="sb" x="643.25" y="489.9" width="12" height="79.2"/></g>
<g id="nv-111"><rect class="o" x="662" y="581.2" width="28.25" height="12.2"/><path class="tr" d="M663.5,584.2L667,587.3L663.5,590.4Z"/><text class="t" x="668.5" y="589.8">111</text></g>

<g id="mul-s22"><rect class="o" x="721.25" y="219.5" width="17" height="12.5"/><text class="t" x="723.5" y="228.25">* 0</text></g>
<g id="num-s22"><rect class="o" x="721.25" y="239" width="28.25" height="12.5"/><path class="tr" d="M722.75,242L726.25,245.25L722.75,248.5Z"/><text class="t" x="727.75" y="247.75">0</text></g>
<g id="sel1a-s22"><rect class="o" x="721.25" y="256.7" width="20" height="11.9"/><text class="t" x="723.5" y="265.15">sel 1</text></g>
<g id="btn-s22"><rect class="o" x="721.25" y="274.5" width="13.25" height="13.5"/><circle class="ui" cx="727.9" cy="281.25" r="4.3"/></g>
<g id="tog-s22"><rect class="o" x="721.25" y="295.2" width="13.25" height="13.2"/><path class="ui" d="M723.75,297.7L732,305.9M732,297.7L723.75,305.9"/></g>
<g id="sel1b-s22"><rect class="o" x="721.25" y="315.7" width="20" height="11.9"/><text class="t" x="723.5" y="324.15">sel 1</text></g>
<g id="msg0-s22"><rect class="m" x="721.25" y="363.4" width="15.5" height="12.3" rx="2.5"/><text class="t" x="724.25" y="372.05">0</text></g>
<g id="msg1-s22"><rect class="m" x="741.75" y="363.4" width="16.75" height="12.3" rx="2.5"/><text class="t" x="744.75" y="372.05">1</text></g>
<g id="numf-s22"><rect class="o" x="741.75" y="396.6" width="28.25" height="12.1"/><path class="tr" d="M743.25,399.6L746.75,402.65L743.25,405.7Z"/><text class="t" x="748.25" y="405.15">0.</text></g>
<g id="sig-s22"><rect class="o" x="741.75" y="418.2" width="18.5" height="11.8"/><text class="t" x="743.75" y="426.6">sig~</text></g>
<g id="groove-s22"><rect class="o" x="721.25" y="444.7" width="73.75" height="11.7"/><text class="t" x="723.25" y="453.05">groove~ S2-2 @loop 0</text></g>
<g id="lm-109"><rect class="o" x="735.25" y="466.2" width="47.5" height="12.2"/><text class="t" x="737.25" y="474.8">loadmess 109</text></g>
<g id="sl-s22"><rect x="723.75" y="491.9" width="12" height="79.5" fill="url(#hd)"/><rect x="723.75" y="516" width="12" height="55.4" fill="url(#hl)"/><rect class="sb" x="723.75" y="491.9" width="12" height="79.5"/></g>
<g id="nv-109"><rect class="o" x="762.5" y="576.6" width="28" height="12"/><path class="tr" d="M764,579.6L767.5,582.6L764,585.6Z"/><text class="t" x="769" y="585.1">109</text></g>

<g id="mul-s23"><rect class="o" x="800.25" y="221" width="16.25" height="11.7"/><text class="t" x="802.5" y="229.35">* 0</text></g>
<g id="num-s23"><rect class="o" x="800.25" y="239" width="28" height="12.5"/><path class="tr" d="M801.75,242L805.25,245.25L801.75,248.5Z"/><text class="t" x="806.75" y="247.75">0</text></g>
<g id="sel1a-s23"><rect class="o" x="800.25" y="256.7" width="20" height="11.9"/><text class="t" x="802.5" y="265.15">sel 1</text></g>
<g id="btn-s23"><rect class="o" x="800.25" y="274.5" width="13.25" height="13.5"/><circle class="ui" cx="806.9" cy="281.25" r="4.3"/></g>
<g id="tog-s23"><rect class="o" x="800.25" y="295.2" width="13.25" height="13.2"/><path class="ui" d="M802.75,297.7L811,305.9M811,297.7L802.75,305.9"/></g>
<g id="sel1b-s23"><rect class="o" x="800.25" y="315.7" width="20" height="11.9"/><text class="t" x="802.5" y="324.15">sel 1</text></g>
<g id="msg0-s23"><rect class="m" x="800.25" y="363.4" width="16.25" height="12.3" rx="2.5"/><text class="t" x="803.25" y="372.05">0</text></g>
<g id="msg1-s23"><rect class="m" x="819.5" y="363.4" width="16.5" height="12.3" rx="2.5"/><text class="t" x="822.5" y="372.05">1</text></g>
<g id="numf-s23"><rect class="o" x="819.5" y="396.6" width="28.25" height="12.1"/><path class="tr" d="M821,399.6L824.5,402.65L821,405.7Z"/><text class="t" x="826" y="405.15">0.</text></g>
<g id="sig-s23"><rect class="o" x="819.5" y="417.1" width="19" height="12.1"/><text class="t" x="821.5" y="425.65">sig~</text></g>
<g id="groove-s23"><rect class="o" x="800.25" y="444.7" width="73.75" height="11.7"/><text class="t" x="802.25" y="453.05">groove~ S2-3 @loop 0</text></g>
<g id="lm-101"><rect class="o" x="812.75" y="466.2" width="48.75" height="12.2"/><text class="t" x="814.75" y="474.8">loadmess 101</text></g>
<g id="sl-s23"><rect x="802.75" y="491.9" width="12" height="79.5" fill="url(#hd)"/><rect x="802.75" y="519" width="12" height="52.4" fill="url(#hl)"/><rect class="sb" x="802.75" y="491.9" width="12" height="79.5"/></g>
<g id="nv-101"><rect class="o" x="825.25" y="578.7" width="28" height="12.3"/><path class="tr" d="M826.75,581.7L830.25,584.85L826.75,588Z"/><text class="t" x="831.75" y="587.35">101</text></g>

<g id="if3"><rect class="o" x="964" y="121.9" width="76.25" height="11.9"/><text class="t" x="966.3" y="130.35">if $i1 == 3 then 1 else 0</text></g>
<g id="num-m2"><rect class="o" x="964" y="163.1" width="28.25" height="12.1"/><path class="tr" d="M965.5,166.1L969,169.15L965.5,172.2Z"/><text class="t" x="970.5" y="171.65">0</text></g>
<g id="tbi3"><rect class="o" x="1010.75" y="163.1" width="17" height="12.1"/><text class="t" x="1013" y="171.65">t b i</text></g>
<g id="change3"><rect class="o" x="964" y="201.8" width="28.25" height="12.1"/><text class="t" x="966.3" y="210.35">change</text></g>
<g id="sel1a-m2"><rect class="o" x="964" y="221.6" width="20" height="11.9"/><text class="t" x="966.3" y="230.05">sel 1</text></g>
<g id="btn-m2"><rect class="o" x="964" y="240.4" width="13.75" height="13.6"/><circle class="ui" cx="970.9" cy="247.2" r="4.3"/></g>
<g id="msg1a-m2"><rect class="m" x="964.5" y="263.4" width="16.25" height="12" rx="2.5"/><text class="t" x="967.5" y="271.9">1</text></g>
<g id="sel1b-m2"><rect class="o" x="967.75" y="282.9" width="20" height="11.9"/><text class="t" x="970" y="291.35">sel 1</text></g>
<g id="msg0-m2"><rect class="m" x="967.75" y="335.1" width="16.25" height="12" rx="2.5"/><text class="t" x="970.75" y="343.6">0</text></g>
<g id="msg1-m2"><rect class="m" x="1022.25" y="335.1" width="16.75" height="12" rx="2.5"/><text class="t" x="1025.25" y="343.6">1</text></g>
<g id="numf-m2"><rect class="o" x="1011" y="367.3" width="28" height="12.2"/><path class="tr" d="M1012.5,370.3L1016,373.4L1012.5,376.5Z"/><text class="t" x="1017.5" y="375.9">0.</text></g>
<g id="sig-m2"><rect class="o" x="1011" y="388.9" width="17.5" height="11.5"/><text class="t" x="1013" y="397.15">sig~</text></g>
<g id="groove-m2"><rect class="o" x="967.75" y="421.9" width="81.25" height="11.9"/><text class="t" x="969.75" y="430.35">groove~ motor2 @loop 0</text></g>
<g id="groove-s3l"><rect class="o" x="1088.5" y="421.9" width="73.5" height="11.9"/><text class="t" x="1090.5" y="430.35">groove~ S3-L @loop 0</text></g>
<g id="lm-110"><rect class="o" x="944.75" y="453.7" width="47.5" height="12.1"/><text class="t" x="946.75" y="462.25">loadmess 110</text></g>
<g id="sl-m2"><rect x="1003.5" y="466.2" width="11.75" height="79.1" fill="url(#hd)"/><rect x="1003.5" y="488.8" width="11.75" height="56.5" fill="url(#hl)"/><rect class="sb" x="1003.5" y="466.2" width="11.75" height="79.1"/></g>
<g id="nv-110"><rect class="o" x="1016.5" y="566.2" width="28.25" height="12.3"/><path class="tr" d="M1018,569.2L1021.5,572.35L1018,575.5Z"/><text class="t" x="1023" y="574.85">110</text></g>
<g id="sl-s3l"><rect x="1080.75" y="457.9" width="12" height="79.4" fill="url(#hd)"/><rect class="kn" x="1082" y="533.3" width="9.5" height="2.2"/><rect class="sb" x="1080.75" y="457.9" width="12" height="79.4"/></g>
<g id="scale3"><rect class="o" x="1080.25" y="296.3" width="70.5" height="12.1"/><text class="t" x="1082.5" y="304.85">scale 110 230 80 137</text></g>
<g id="num-sc3"><rect class="o" x="1149" y="324.7" width="28" height="12.3"/><path class="tr" d="M1150.5,327.7L1154,330.85L1150.5,334Z"/><text class="t" x="1155.5" y="333.35">0</text></g>
<g id="sel0-f"><rect class="o" x="1181" y="195" width="20" height="12"/><text class="t" x="1183.3" y="203.5">sel 0</text></g>
<g id="msg0-f"><rect class="m" x="1181" y="254" width="16.25" height="12" rx="2.5"/><text class="t" x="1184" y="262.5">0</text></g>
<g id="numf-f"><rect class="o" x="1181" y="335" width="27.5" height="12.1"/><path class="tr" d="M1182.5,338L1186,341.05L1182.5,344.1Z"/><text class="t" x="1187.5" y="343.55">0.</text></g>
<g id="scale4"><rect class="o" x="1217.25" y="360.2" width="71.25" height="12"/><text class="t" x="1219.5" y="368.7">scale 100 320 60 140</text></g>
<g id="num-sc4"><rect class="o" x="1252.75" y="391" width="27.75" height="12.1"/><path class="tr" d="M1254.25,394L1257.75,397.05L1254.25,400.1Z"/><text class="t" x="1259.25" y="399.55">0</text></g>
<g id="groove-s3r"><rect class="o" x="1204.75" y="440.1" width="75.75" height="11.5"/><text class="t" x="1206.75" y="448.35">groove~ S3-R @loop 0</text></g>
<g id="sl-s3r"><rect x="1189" y="499.3" width="11.5" height="78.7" fill="url(#hd)"/><rect class="kn" x="1190.2" y="574.1" width="9.1" height="2.2"/><rect class="sb" x="1189" y="499.3" width="11.5" height="78.7"/></g>

<g id="if4"><rect class="o" x="1287.75" y="121.9" width="77.5" height="11.9"/><text class="t" x="1290" y="130.35">if $i1 == 4 then 1 else 0</text></g>
<g id="num-w4"><rect class="o" x="1287.75" y="158.5" width="28.25" height="11.9"/><path class="tr" d="M1289.25,161.5L1292.75,164.45L1289.25,167.4Z"/><text class="t" x="1294.25" y="166.95">0</text></g>
<g id="tbi4"><rect class="o" x="1345.25" y="158.5" width="16.25" height="11.9"/><text class="t" x="1347.5" y="166.95">t b i</text></g>
<g id="change4"><rect class="o" x="1406.5" y="212.2" width="28.25" height="11.9"/><text class="t" x="1408.8" y="220.65">change</text></g>
<g id="sel1a-w4"><rect class="o" x="1406.5" y="231.4" width="20" height="11.8"/><text class="t" x="1408.8" y="239.8">sel 1</text></g>
<g id="btn-w4"><rect class="o" x="1406.5" y="250.5" width="13.25" height="13.5"/><circle class="ui" cx="1413.1" cy="257.25" r="4.3"/></g>
<g id="msg1a-w4"><rect class="m" x="1406.5" y="273.9" width="15.75" height="11.9" rx="2.5"/><text class="t" x="1409.5" y="282.35">1</text></g>
<g id="sel1b-w4"><rect class="o" x="1406.5" y="292" width="20" height="11.8"/><text class="t" x="1408.8" y="300.4">sel 1</text></g>
<g id="sel0-w4"><rect class="o" x="1345.25" y="254" width="20" height="12"/><text class="t" x="1347.5" y="262.5">sel 0</text></g>
<g id="msg0a-w4"><rect class="m" x="1345.25" y="321.6" width="15.75" height="11.9" rx="2.5"/><text class="t" x="1348.25" y="330.05">0</text></g>
<g id="msg0b-w4"><rect class="m" x="1409.75" y="335.1" width="16.25" height="12" rx="2.5"/><text class="t" x="1412.75" y="343.6">0</text></g>
<g id="msg1b-w4"><rect class="m" x="1438" y="335.1" width="16.25" height="12" rx="2.5"/><text class="t" x="1441" y="343.6">1</text></g>
<g id="numf-l2"><rect class="o" x="1325.5" y="401.4" width="28" height="11.9"/><path class="tr" d="M1327,404.4L1330.5,407.35L1327,410.3Z"/><text class="t" x="1332" y="409.85">0.</text></g>
<g id="sig-l2"><rect class="o" x="1325.5" y="425" width="17.5" height="11.9"/><text class="t" x="1327.5" y="433.45">sig~</text></g>
<g id="groove-l2"><rect class="o" x="1311" y="447" width="73.25" height="11.5"/><text class="t" x="1313" y="455.25">groove~ S1-L @loop 1</text></g>
<g id="numf-r4"><rect class="o" x="1438" y="401.4" width="28.5" height="11.9"/><path class="tr" d="M1439.5,404.4L1443,407.35L1439.5,410.3Z"/><text class="t" x="1444.5" y="409.85">0.</text></g>
<g id="sig-r4"><rect class="o" x="1438" y="423" width="19.25" height="11.9"/><text class="t" x="1440" y="431.45">sig~</text></g>
<g id="groove-r4"><rect class="o" x="1394" y="447" width="74.5" height="11.5"/><text class="t" x="1396" y="455.25">groove~ S4-R @loop 0</text></g>

<g id="mul-s41"><rect class="o" x="1473.5" y="217.5" width="17" height="12.5"/><text class="t" x="1475.8" y="226.25">* 0</text></g>
<g id="num-s41"><rect class="o" x="1473.5" y="236.9" width="28.25" height="12.3"/><path class="tr" d="M1475,239.9L1478.5,243.05L1475,246.2Z"/><text class="t" x="1480" y="245.55">0</text></g>
<g id="sel1a-s41"><rect class="o" x="1473.5" y="254" width="20" height="12"/><text class="t" x="1475.8" y="262.5">sel 1</text></g>
<g id="btn-s41"><rect class="o" x="1473.5" y="273.5" width="13.25" height="13.4"/><circle class="ui" cx="1480.1" cy="280.2" r="4.3"/></g>
<g id="tog-s41"><rect class="o" x="1473.5" y="293.8" width="13.25" height="13.5"/><path class="ui" d="M1476,296.3L1484.25,304.8M1484.25,296.3L1476,304.8"/></g>
<g id="sel1b-s41"><rect class="o" x="1473.5" y="314.7" width="20" height="11.9"/><text class="t" x="1475.8" y="323.15">sel 1</text></g>
<g id="msg0-s41"><rect class="m" x="1473.5" y="361.3" width="16.25" height="11.9" rx="2.5"/><text class="t" x="1476.5" y="369.75">0</text></g>
<g id="msg1-s41"><rect class="m" x="1495.5" y="361.3" width="16.25" height="11.9" rx="2.5"/><text class="t" x="1498.5" y="369.75">1</text></g>
<g id="numf-s41"><rect class="o" x="1495.5" y="394.1" width="28" height="12.1"/><path class="tr" d="M1497,397.1L1500.5,400.15L1497,403.2Z"/><text class="t" x="1502" y="402.65">0.</text></g>
<g id="sig-s41"><rect class="o" x="1493" y="416.1" width="18.75" height="11.9"/><text class="t" x="1495" y="424.55">sig~</text></g>
<g id="groove-s41"><rect class="o" x="1473.5" y="443.2" width="74.5" height="12.2"/><text class="t" x="1475.5" y="451.8">groove~ S4-1 @loop 0</text></g>
<g id="lm-103"><rect class="o" x="1487.25" y="463.7" width="47.5" height="11.9"/><text class="t" x="1489.25" y="472.15">loadmess 103</text></g>
<g id="sl-s41"><rect x="1473.5" y="487.8" width="12" height="79.2" fill="url(#hd)"/><rect x="1473.5" y="514" width="12" height="53" fill="url(#hl)"/><rect class="sb" x="1473.5" y="487.8" width="12" height="79.2"/></g>
<g id="nv-103"><rect class="o" x="1515.5" y="529" width="28.5" height="12"/><path class="tr" d="M1517,532L1520.5,535L1517,538Z"/><text class="t" x="1522" y="537.5">103</text></g>

<g id="mul-s42"><rect class="o" x="1553.5" y="217.5" width="17" height="12.5"/><text class="t" x="1555.8" y="226.25">* 0</text></g>
<g id="num-s42"><rect class="o" x="1553.5" y="236.9" width="28.25" height="12.3"/><path class="tr" d="M1555,239.9L1558.5,243.05L1555,246.2Z"/><text class="t" x="1560" y="245.55">0</text></g>
<g id="sel1a-s42"><rect class="o" x="1553.5" y="254" width="20" height="12"/><text class="t" x="1555.8" y="262.5">sel</text></g>
<g id="btn-s42"><rect class="o" x="1553.5" y="273.5" width="13.25" height="13.4"/><circle class="ui" cx="1560.1" cy="280.2" r="4.3"/></g>
<g id="tog-s42"><rect class="o" x="1553.5" y="293.8" width="13.25" height="13.5"/><path class="ui" d="M1556,296.3L1564.25,304.8M1564.25,296.3L1556,304.8"/></g>
<g id="sel1b-s42"><rect class="o" x="1553.5" y="313.5" width="20" height="11.9"/><text class="t" x="1555.8" y="321.95">sel</text></g>
<g id="msg0-s42"><rect class="m" x="1553.5" y="361.3" width="16.25" height="11.9" rx="2.5"/><text class="t" x="1556.5" y="369.75">0</text></g>
<g id="groove-s42"><rect class="o" x="1553.5" y="443.2" width="74.5" height="12.2"/><text class="t" x="1555.5" y="451.8">groo</text></g>
<g id="sl-s42"><rect x="1554.25" y="489.9" width="11.75" height="79.2" fill="url(#hd)"/><rect x="1554.25" y="516" width="11.75" height="53.1" fill="url(#hl)"/><rect class="sb" x="1554.25" y="489.9" width="11.75" height="79.2"/></g>

<g id="sl-leftvol"><rect x="12.5" y="660.7" width="12.5" height="79.4" fill="url(#hd)"/><rect class="kn" x="13.8" y="736.1" width="9.9" height="2.2"/><rect class="sb" x="12.5" y="660.7" width="12.5" height="79.4"/></g>
<g id="sl-rightvol"><rect x="172" y="676.4" width="12.5" height="79.8" fill="url(#hd)"/><rect class="kn" x="173.3" y="752.6" width="9.9" height="2.2"/><rect class="sb" x="172" y="676.4" width="12.5" height="79.8"/></g>
<g id="dac"><rect class="o" x="462.75" y="727.2" width="21.25" height="11.9"/><text class="t" x="464.75" y="735.65">dac~</text></g>

<g id="overlay"><rect x="1520.5" y="-8" width="60" height="38" rx="6" fill="#f3f3f3" stroke="#d0d0d0" stroke-width=".6"/><path d="M1535,0C1533,4 1535,8 1539.5,10" fill="none" stroke="#333" stroke-width="2"/><path d="M1557.5,0C1559.5,4 1557.5,8 1553,10" fill="none" stroke="#333" stroke-width="2"/></g>
</g>
</svg>
